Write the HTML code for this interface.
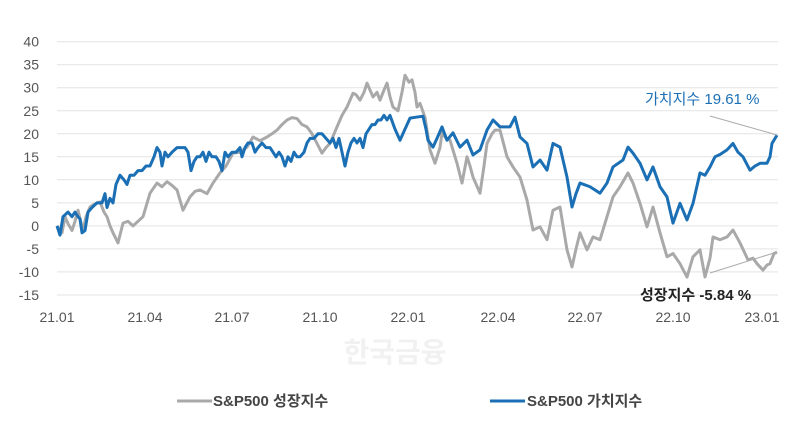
<!DOCTYPE html>
<html><head><meta charset="utf-8"><style>
html,body{margin:0;padding:0;background:#fff;}
svg{display:block;font-family:"Liberation Sans","Noto Sans CJK KR",sans-serif;}
</style></head><body>
<svg width="800" height="441" viewBox="0 0 800 441">
<g stroke="#e3e3e3" stroke-width="1">
<line x1="57" x2="778" y1="41.7" y2="41.7"/><line x1="57" x2="778" y1="64.7" y2="64.7"/>
<line x1="57" x2="778" y1="87.7" y2="87.7"/><line x1="57" x2="778" y1="110.8" y2="110.8"/>
<line x1="57" x2="778" y1="133.8" y2="133.8"/><line x1="57" x2="778" y1="156.8" y2="156.8"/>
<line x1="57" x2="778" y1="179.8" y2="179.8"/><line x1="57" x2="778" y1="202.9" y2="202.9"/>
<line x1="57" x2="778" y1="225.9" y2="225.9"/><line x1="57" x2="778" y1="248.9" y2="248.9"/>
<line x1="57" x2="778" y1="271.9" y2="271.9"/><line x1="57" x2="778" y1="295" y2="295"/>
</g>
<g fill="#555" font-size="14" text-anchor="end">
<text x="39" y="46.7">40</text><text x="39" y="69.7">35</text><text x="39" y="92.7">30</text>
<text x="39" y="115.8">25</text><text x="39" y="138.8">20</text><text x="39" y="161.8">15</text>
<text x="39" y="184.8">10</text><text x="39" y="207.9">5</text><text x="39" y="230.9">0</text>
<text x="39" y="253.9">-5</text><text x="39" y="276.9">-10</text><text x="39" y="300">-15</text>
</g>
<g fill="#555" font-size="14" text-anchor="middle">
<text x="57" y="322">21.01</text><text x="145" y="322">21.04</text><text x="232" y="322">21.07</text>
<text x="320" y="322">21.10</text><text x="408" y="322">22.01</text><text x="498" y="322">22.04</text>
<text x="585" y="322">22.07</text><text x="673" y="322">22.10</text><text x="762" y="322">23.01</text>
</g>
<text x="395" y="362" font-size="28" font-weight="bold" fill="#f1f1f1" text-anchor="middle">한국금융</text>
<g transform="translate(0,225.9) scale(1,-4.606)" fill="none" stroke-linejoin="round">
<polyline vector-effect="non-scaling-stroke" stroke="#a9a9a9" stroke-width="3" points="57,0 62,-1.5 65,2 68,0.5 72,-1 75,1 78,3.4 83,-1 86,2 90,4.1 95,4.8 100,5.2 104,3 107,2 110,0 113,-1.5 118,-3.7 123,0.6 128,1 133,0 138,1 143,2 150,7.1 157,9.3 162,8.5 167,9.6 172,8.8 177,7.8 183,3.4 190,6.3 195,7.5 200,7.8 207,7 213,9.3 220,11.5 226,13 233,15.8 240,16 247,17.1 253,19.3 260,18.5 267,19.3 272,20 277,20.8 282,22 287,23 292,23.5 297,23.3 302,22 307,21.5 312,20 317,17.9 322,15.8 326,17 330,17.9 337,21.5 342,24 347,25.8 353,28.8 356,28.5 360,27.3 364,29 367,31 373,28 377,29 380,27.3 384,29.5 387,31 390,28 393,25.8 398,25 402,29 405,32.7 409,31.2 412,31.7 415,29 417,25.8 420,26.6 425,23.6 430,16.5 435,13.6 440,17 442,20.2 446,19 450,18.6 457,13.6 462,9.3 467,15 470,13 473,10.6 480,7.1 484,13 487,17.9 492,20 495,20.8 500,20.8 507,15 513,12.8 520,10.6 527,5.6 533,-0.9 540,-0.2 547,-3 553,3.4 560,4.1 567,-5.2 572,-8.9 576,-5 580,-1.5 587,-5.2 593,-2.4 600,-3 607,2 613,6.3 620,8.5 628,11.5 633,9.3 640,4.9 647,-0.2 653,4.1 660,-1.5 667,-6.7 673,-6 680,-8.2 687,-11.1 693,-6.7 700,-5.2 705,-11.1 710,-7 713,-2.4 720,-3 727,-2.4 733,-0.9 740,-3.7 745,-6 748,-7.4 753,-7 757,-8.2 763,-9.6 767,-8.5 770,-8.2 774,-6 777,-5.7"/>
<polyline vector-effect="non-scaling-stroke" stroke="#1a6fb5" stroke-width="3" points="57,0 60,-2 63,2 68,3 72,2 75,3 78,2 80,1.5 82,-1.5 85,-1 88,3 92,4 97,5 102,5 105,7 107,4 110,6 113,5 116,9 120,11 124,10 127,9 130,11 134,11 138,12 142,12 146,13 150,13 154,15 157,17 160,16 162,13 165,16 168,15 172,16 177,17 181,17 185,17 188,16 191,12 194,14 197,15 200,15 203,16 206,14 209,16 212,15 216,15 219,14 222,12 225,16 228,15 232,16 236,16 240,17 242,15 245,17 248,18 252,18 255,16 258,17 262,18 266,17 270,17 273,16 276,15 279,16 282,15 285,13 288,15 291,14 294,16 297,15 300,15 304,16 307,18 310,19 314,19 318,20 322,20 326,19 330,18 333,19 336,17 339,19 342,16 345,13 348,16 351,18 354,19 357,18 360,19 363,17 366,20 369,21 372,22 375,22 378,23 381,23 384,24 387,23 390,24 395,21 400,18.6 405,21 410,23.4 416,23.6 423,23.8 426,21 428,18.6 433,17.1 437,19 442,21.5 447,18.6 453,20.2 460,17.1 467,18.6 473,15.4 480,16.5 487,20.8 493,23 500,21.5 510,21.5 515,23.6 520,19.3 527,17.9 533,12.8 540,14.3 547,12.1 553,17.9 560,17.1 567,10.6 572,4.1 576,7 580,9.3 590,8.5 600,7.1 607,9.3 613,12.8 623,14.3 628,17.1 633,15.8 640,13.6 647,10 653,12.8 660,8.5 667,6.3 673,0.6 680,4.9 687,1.3 693,4.9 700,11.5 705,11 710,12.8 715,15 720,15.5 727,16.5 733,17.9 738,16 743,15 750,12.1 755,13 760,13.6 767,13.6 770,15 772,17.9 777,19.7"/>
</g>
<line x1="710" y1="116" x2="777" y2="135" stroke="#aaa" stroke-width="1"/>
<line x1="710" y1="273" x2="777" y2="252" stroke="#aaa" stroke-width="1"/>
<text x="645" y="104" font-size="15" fill="#1a6fb5">가치지수 19.61 %</text>
<text x="640" y="300" font-size="15" font-weight="bold" fill="#222">성장지수 -5.84 %</text>
<line x1="177" y1="401" x2="212" y2="401" stroke="#a9a9a9" stroke-width="3"/>
<text x="213" y="406" font-size="15" font-weight="bold" fill="#444">S&amp;P500 성장지수</text>
<line x1="490" y1="401" x2="525" y2="401" stroke="#1a6fb5" stroke-width="3"/>
<text x="527" y="406" font-size="15" font-weight="bold" fill="#444">S&amp;P500 가치지수</text>
</svg>
</body></html>
